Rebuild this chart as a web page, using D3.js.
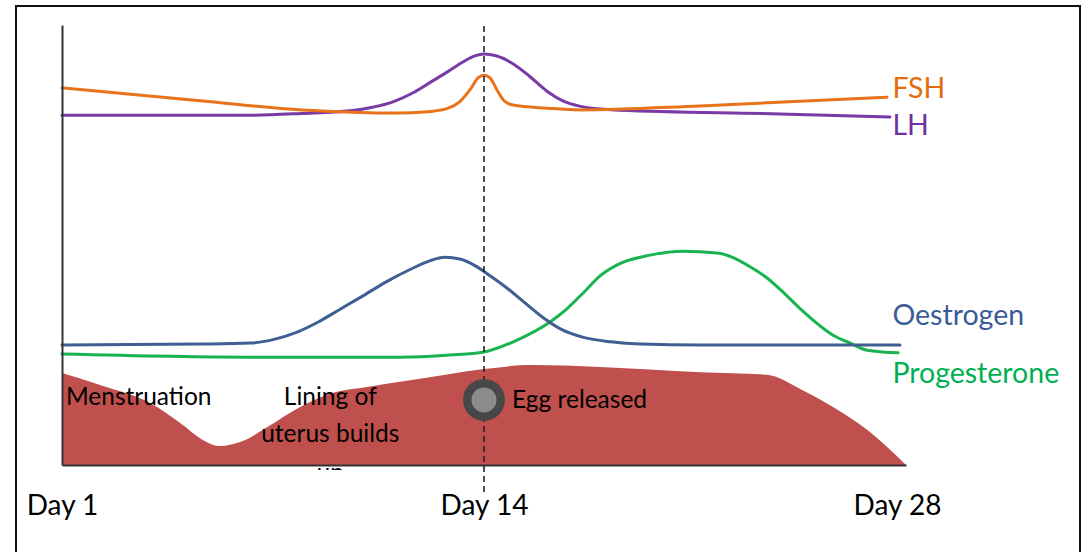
<!DOCTYPE html>
<html>
<head>
<meta charset="utf-8">
<script src="https://cdn.jsdelivr.net/npm/d3@7"></script>
<style>
  html, body { margin: 0; padding: 0; background: #fff; }
  svg { display: block; }
  text { font-family: Lato, "Open Sans", sans-serif; }
</style>
</head>
<body>
<svg id="chart" width="1084" height="552"></svg>
<script>
// ---- data (x in cycle days, y in relative hormone level 0-100) ----
const fshDays   = [0, 4.58, 7.96, 11.21, 12.0, 12.77, 13.2, 13.55, 13.8, 14.0, 14.2, 14.45, 14.65, 14.96, 16.09, 17.19, 21.17, 27.37];
const fshLevels = [85.7, 82.8, 80.7, 80.0, 80.2, 81.0, 82.6, 85.4, 88.0, 88.6, 88.0, 85.0, 82.9, 81.8, 81.1, 80.7, 81.6, 83.6];

const lhDays   = [0, 6.24, 7.96, 9.56, 10.3, 11.0, 11.65, 12.3, 12.8, 13.3, 13.7, 14.0, 14.4, 14.96, 15.5, 16.1, 16.6, 17.2, 17.9, 18.5, 23.82, 27.47];
const lhLevels = [79.5, 79.5, 79.9, 80.5, 81.3, 82.6, 84.6, 87.3, 89.4, 91.6, 93.0, 93.4, 93.0, 91.2, 88.4, 84.9, 82.8, 81.5, 80.9, 80.6, 79.8, 79.1];

const oesDays   = [0, 4.58, 6.24, 7.0, 7.8, 8.5, 9.2, 10.0, 10.8, 11.6, 12.2, 12.7, 13.2, 13.7, 14.2, 14.8, 15.4, 16.0, 16.6, 17.3, 18.2, 19.2, 21.17, 27.8];
const oesLevels = [27.3, 27.5, 27.7, 28.5, 30.2, 32.5, 35.3, 38.5, 41.8, 44.6, 46.4, 47.2, 46.8, 45.3, 43.0, 40.0, 36.6, 33.3, 30.7, 29.0, 28.0, 27.5, 27.3, 27.3];

const proDays   = [0, 6.24, 11.21, 12.87, 14.0, 15.1, 16.19, 16.75, 17.29, 17.85, 18.42, 19.51, 20.6, 21.73, 22.84, 23.39, 23.92, 24.49, 25.58, 26.15, 26.71, 27.74];
const proLevels = [25.2, 24.5, 24.5, 25.0, 25.7, 28.4, 32.5, 35.5, 39.1, 43.0, 45.5, 47.7, 48.6, 48.2, 45.0, 42.5, 39.3, 35.5, 29.5, 27.7, 26.1, 25.5];

const liningDays   = [0, 1.26, 2.92, 4.01, 4.58, 5.24, 5.91, 6.8, 7.9, 8.99, 10.12, 11.21, 12.87, 14.0, 15.53, 17.85, 21.17, 23.39, 24.49, 25.58, 26.71, 28.0];
const liningLevels = [20.9, 18.2, 14.1, 9.1, 6.1, 4.3, 5.2, 8.6, 13.2, 16.4, 17.7, 18.9, 20.7, 21.8, 22.7, 22.3, 21.1, 20.5, 17.3, 13.2, 8.0, 0];

const tickDays   = [0, 14, 27.7];
const tickLabels = ["Day 1", "Day 14", "Day 28"];

const ovulationDay = 14;
const eggLevel = 14.8;

const seriesNames  = ["FSH", "LH", "Oestrogen", "Progesterone"];
const seriesLabelLevels = [83.4, 75.0, 31.8, 18.6];
const seriesLabelDay = 27.55;

const liningTexts = [
  { text: "Menstruation",  day: 0.13,  level: 13.6, anchor: "start" },
  { text: "Lining of",     day: 8.9,   level: 13.6, anchor: "middle" },
  { text: "uterus builds", day: 8.9,   level: 5.2,  anchor: "middle" },
  { text: "Egg released",  day: 14.93, level: 13.0, anchor: "start" }
];

// ---- layout ----
const svg = d3.select("#chart");
const W = 1084, H = 552;
const x = d3.scaleLinear().domain([0, 28]).range([62, 906]);
const y = d3.scaleLinear().domain([0, 100]).range([465, 25]);

const colors = {
  FSH: "#E8731A", LH: "#7A3AA6", Oestrogen: "#3F5F93", Progesterone: "#19B44F",
  FSHText: "#E46C0A", LHText: "#7030A0", OestrogenText: "#3A5C96", ProgesteroneText: "#00B050",
  lining: "#C0504D"
};

// outer frame
svg.append("path").attr("d", `M16,${H} L16,6 L1080,6 L1080,${H}`)
  .attr("fill", "none").attr("stroke", "#111").attr("stroke-width", 2);

// hidden third line "up" partially below area
const clip = svg.append("defs").append("clipPath").attr("id", "upclip");
clip.append("rect").attr("x", 0).attr("y", y(0)).attr("width", W).attr("height", 5);
svg.append("text").attr("x", x(8.9)).attr("y", y(0) + 15)
  .attr("text-anchor", "middle").attr("font-size", 24).attr("fill", "#000")
  .attr("clip-path", "url(#upclip)").text("up");

// uterus lining area
const liningData = liningDays.map((d, i) => [d, liningLevels[i]]);
svg.append("path").datum(liningData)
  .attr("fill", colors.lining)
  .attr("d", d3.area().x(d => x(d[0])).y0(y(0)).y1(d => y(d[1])).curve(d3.curveMonotoneX));

// hormone lines
const lineGen = d3.line().x(d => x(d[0])).y(d => y(d[1])).curve(d3.curveMonotoneX);
const series = [
  { name: "Progesterone", days: proDays, levels: proLevels },
  { name: "Oestrogen", days: oesDays, levels: oesLevels },
  { name: "LH", days: lhDays, levels: lhLevels },
  { name: "FSH", days: fshDays, levels: fshLevels }
];
series.forEach(s => {
  svg.append("path").datum(s.days.map((d, i) => [d, s.levels[i]]))
    .attr("fill", "none").attr("stroke", colors[s.name])
    .attr("stroke-width", 3).attr("stroke-linejoin", "round").attr("stroke-linecap", "round")
    .attr("d", lineGen);
});

// axes
const yAxis = svg.append("g").attr("transform", `translate(${x(0)},0)`)
  .call(d3.axisLeft(y).tickValues([]).tickSize(0));
yAxis.select(".domain").attr("stroke", "#333").attr("stroke-width", 2);

const xAxis = svg.append("g").attr("transform", `translate(0,${y(0)})`)
  .call(d3.axisBottom(x).tickValues(tickDays).tickSize(0).tickFormat((d, i) => tickLabels[i]));
xAxis.select(".domain").attr("stroke", "#333").attr("stroke-width", 2);
xAxis.selectAll("text").attr("y", 50).attr("dy", 0)
  .attr("font-size", 28).attr("fill", "#000").attr("font-family", "Lato, 'Open Sans', sans-serif");

// ovulation dashed line
svg.append("line")
  .attr("x1", x(ovulationDay)).attr("x2", x(ovulationDay))
  .attr("y1", y(100) + 1).attr("y2", y(0) + 28)
  .attr("stroke", "#222").attr("stroke-width", 1.6).attr("stroke-dasharray", "6,4");

// egg
svg.append("circle").attr("cx", x(ovulationDay)).attr("cy", y(eggLevel)).attr("r", 21).attr("fill", "#474747");
svg.append("circle").attr("cx", x(ovulationDay)).attr("cy", y(eggLevel)).attr("r", 12.5).attr("fill", "#8C8C8C");

// lining texts
liningTexts.forEach(t => {
  svg.append("text").attr("x", x(t.day)).attr("y", y(t.level))
    .attr("text-anchor", t.anchor).attr("font-size", 24.5).attr("fill", "#000").text(t.text);
});

// series labels
seriesNames.forEach((n, i) => {
  svg.append("text").attr("x", x(seriesLabelDay)).attr("y", y(seriesLabelLevels[i]))
    .attr("font-size", 28.5).attr("fill", colors[n + "Text"]).text(n);
});
</script>
</body>
</html>
